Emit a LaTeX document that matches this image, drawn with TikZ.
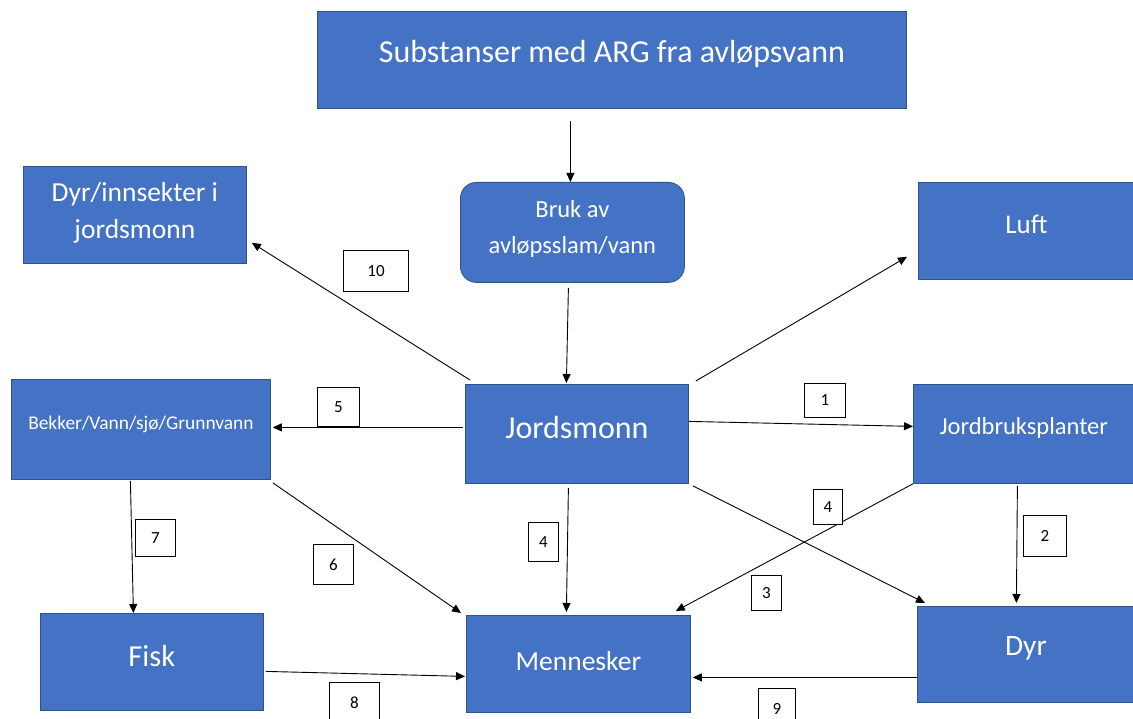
\documentclass[tikz,border=0pt]{standalone}
\usepackage{fontspec}
\setmainfont{Carlito}
\usetikzlibrary{arrows.meta,calc}
\definecolor{boxblue}{HTML}{4472C4}
\definecolor{boxedge}{HTML}{2F528F}
\begin{document}
\begin{tikzpicture}[x=1pt,y=-1pt,
  box/.style={draw=boxedge,line width=0.8pt,fill=boxblue,inner sep=0pt,anchor=north west},
  txt/.style={text=white,inner sep=0pt,align=center},
  lbl/.style={draw=black,line width=1pt,fill=white,inner sep=0pt,anchor=north west,font=\fontsize{17}{20}\selectfont},
  arr/.style={-{Triangle[length=9pt,width=8pt]},line width=0.9pt,draw=black}]
\useasboundingbox (0,0) rectangle (1133,719);
% boxes
\node[box,minimum width=589pt,minimum height=97pt] (title) at (317,11) {};
\node[box,rounded corners=16pt,minimum width=224pt,minimum height=100pt] (bruk) at (460,182) {};
\node[box,minimum width=223pt,minimum height=97pt] (dyri) at (23,166) {};
\node[box,minimum width=216pt,minimum height=97pt] (luft) at (918,182) {};
\node[box,minimum width=259pt,minimum height=100pt] (bekker) at (11,379) {};
\node[box,minimum width=223pt,minimum height=99pt] (jord) at (465,384) {};
\node[box,minimum width=221pt,minimum height=99pt] (jbp) at (913,384) {};
\node[box,minimum width=223pt,minimum height=97pt] (fisk) at (40,613) {};
\node[box,minimum width=224pt,minimum height=97pt] (menn) at (466,615) {};
\node[box,minimum width=217pt,minimum height=96pt] (dyr) at (917,606) {};
% texts
\node[txt,font=\fontsize{32}{36}\selectfont] (title-t) at ($(title.center)+(0,-6)$) {Substanser med ARG fra avløpsvann};
\node[txt,font=\fontsize{24.5}{36}\selectfont] (bruk-t) at ($(bruk.center)+(0,-3)$) {Bruk av\\avløpsslam/vann};
\node[txt,font=\fontsize{27.5}{37}\selectfont] (dyri-t) at ($(dyri.center)+(0,-2)$) {Dyr/innsekter i\\jordsmonn};
\node[txt,font=\fontsize{27}{32}\selectfont] (luft-t) at ($(luft.center)+(0,-7)$) {Luft};
\node[txt,font=\fontsize{19.4}{24}\selectfont] (bekker-t) at ($(bekker.center)+(0,-5)$) {Bekker/Vann/sjø/Grunnvann};
\node[txt,font=\fontsize{32}{36}\selectfont] (jord-t) at ($(jord.center)+(0,-6)$) {Jordsmonn};
\node[txt,font=\fontsize{24.5}{30}\selectfont] (jbp-t) at ($(jbp.center)+(0,-6)$) {Jordbruksplanter};
\node[txt,font=\fontsize{30.5}{36}\selectfont] (fisk-t) at ($(fisk.center)+(0,-6)$) {Fisk};
\node[txt,font=\fontsize{27.5}{32}\selectfont] (menn-t) at ($(menn.center)+(0,-3)$) {Mennesker};
\node[txt,font=\fontsize{29.5}{34}\selectfont] (dyr-t) at ($(dyr.center)+(0,-6)$) {Dyr};
% arrows
\draw[arr] ($(title.south)+(-41.5,12)$) -- ($(bruk.north)+(-2,0)$);
\draw[arr] ($(bruk.south)+(-4,5)$) -- ($(jord.north)+(-10.5,-1)$);
\draw[arr] ($(jord.north west)+(5,-4)$) -- ($(dyri.south east)+(5,-21)$);
\draw[arr] ($(jord.north east)+(7,-3)$) -- ($(luft.south west)+(-11,-23)$);
\draw[arr] ($(jord.west)+(-2,-6.5)$) -- ($(bekker.east)+(2,-2)$);
\draw[arr] ($(jord.east)+(0,-12.5)$) -- ($(jbp.west)+(0,-7.5)$);
\draw[arr] ($(jord.south)+(-8.5,4)$) -- ($(menn.north)+(-12,-3)$);
\draw[arr] ($(jord.south east)+(4,2)$) -- ($(dyr.north west)+(8,-3)$);
\draw[arr] (jbp.south west) -- ($(menn.north east)+(-15,-4)$);
\draw[arr] ($(jbp.south)+(-6.5,2)$) -- ($(dyr.north)+(-9.5,-3)$);
\draw[arr] ($(bekker.south)+(-10.5,1)$) -- ($(fisk.north)+(-18.5,0)$);
\draw[arr] ($(bekker.south east)+(2,3)$) -- ($(menn.north west)+(-5,-2)$);
\draw[arr] ($(fisk.east)+(2,9.5)$) -- ($(menn.west)+(-1,12.5)$);
\draw[arr] ($(dyr.west)+(0,23)$) -- ($(menn.east)+(2,13.5)$);
% labels
\node[lbl,minimum width=65pt,minimum height=41pt] (l10) at (343,250) {10};
\node[lbl,minimum width=42pt,minimum height=39pt] (l5) at (317,387) {5};
\node[lbl,minimum width=41pt,minimum height=34pt] (l1) at (804,383) {1};
\node[lbl,minimum width=29pt,minimum height=35pt] (l4r) at (813,489) {4};
\node[lbl,minimum width=43pt,minimum height=41pt] (l2) at (1023,515) {2};
\node[lbl,minimum width=30pt,minimum height=35pt] (l3) at (751,575) {3};
\node[lbl,minimum width=30pt,minimum height=39pt] (l4m) at (528,522) {4};
\node[lbl,minimum width=40pt,minimum height=37pt] (l7) at (135,519) {7};
\node[lbl,minimum width=40pt,minimum height=40pt] (l6) at (313,544) {6};
\node[lbl,minimum width=50pt,minimum height=40pt] (l8) at (329,682) {8};
\node[lbl,minimum width=37pt,minimum height=40pt] (l9) at (758,688) {9};
\end{tikzpicture}
\end{document}
